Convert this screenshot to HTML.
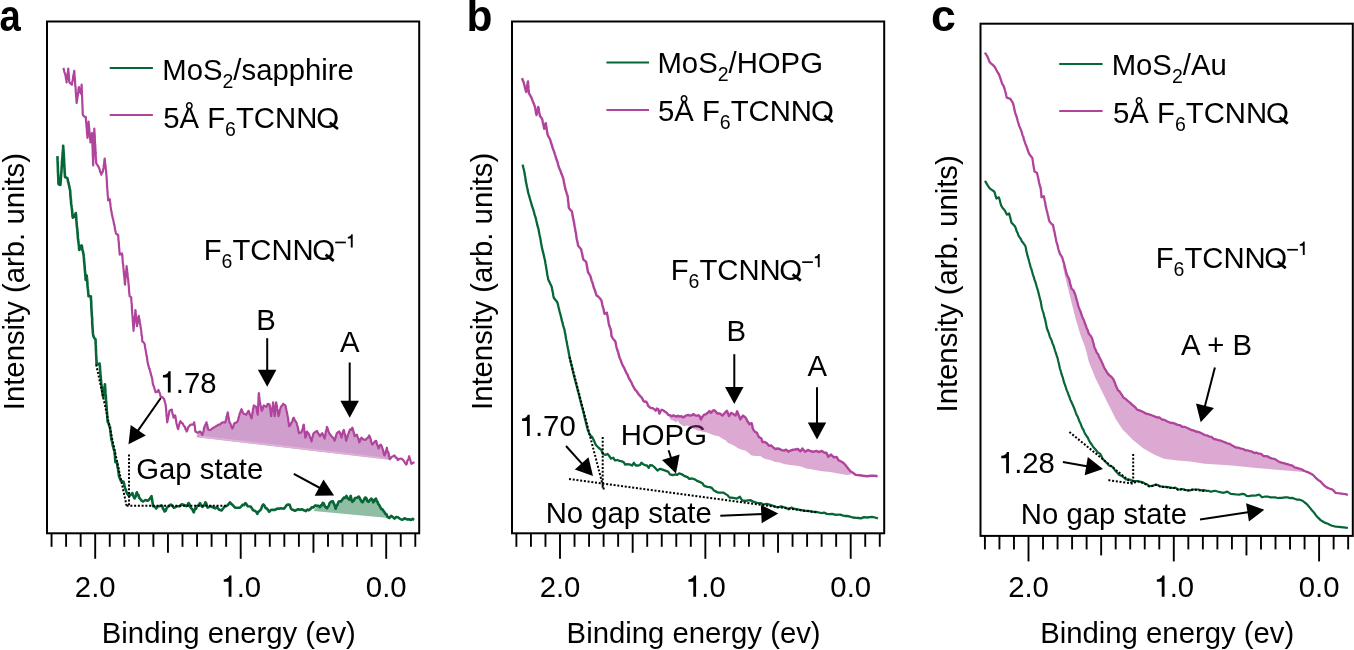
<!DOCTYPE html>
<html><head><meta charset="utf-8"><style>
html,body{margin:0;padding:0;background:#fff;overflow:hidden}
svg{display:block;will-change:transform}
text{font-family:"Liberation Sans",sans-serif;fill:#000}
</style></head><body>
<svg width="1354" height="650" viewBox="0 0 1354 650" font-family="Liberation Sans, sans-serif">
<rect width="1354" height="650" fill="#fff"/>
<text transform="translate(-0.5,31.2) scale(0.91,1.05)" font-size="42" font-weight="bold">a</text>
<text transform="translate(466.6,31.3) scale(1,1.03)" font-size="42.5" font-weight="bold">b</text>
<text transform="translate(930.9,31.3) scale(1.05,1.05)" font-size="42.5" font-weight="bold">c</text>
<rect x="47" y="21.5" width="372.2" height="511.79999999999995" fill="none" stroke="#000" stroke-width="2"/>
<line x1="51.55" y1="533.3" x2="51.55" y2="546.8" stroke="#000" stroke-width="1.9"/>
<line x1="66.10" y1="533.3" x2="66.10" y2="546.8" stroke="#000" stroke-width="1.9"/>
<line x1="80.65" y1="533.3" x2="80.65" y2="546.8" stroke="#000" stroke-width="1.9"/>
<line x1="95.20" y1="533.3" x2="95.20" y2="558.8" stroke="#000" stroke-width="1.9"/>
<line x1="109.75" y1="533.3" x2="109.75" y2="546.8" stroke="#000" stroke-width="1.9"/>
<line x1="124.30" y1="533.3" x2="124.30" y2="546.8" stroke="#000" stroke-width="1.9"/>
<line x1="138.85" y1="533.3" x2="138.85" y2="546.8" stroke="#000" stroke-width="1.9"/>
<line x1="153.40" y1="533.3" x2="153.40" y2="546.8" stroke="#000" stroke-width="1.9"/>
<line x1="167.95" y1="533.3" x2="167.95" y2="552.8" stroke="#000" stroke-width="1.9"/>
<line x1="182.50" y1="533.3" x2="182.50" y2="546.8" stroke="#000" stroke-width="1.9"/>
<line x1="197.05" y1="533.3" x2="197.05" y2="546.8" stroke="#000" stroke-width="1.9"/>
<line x1="211.60" y1="533.3" x2="211.60" y2="546.8" stroke="#000" stroke-width="1.9"/>
<line x1="226.15" y1="533.3" x2="226.15" y2="546.8" stroke="#000" stroke-width="1.9"/>
<line x1="240.70" y1="533.3" x2="240.70" y2="558.8" stroke="#000" stroke-width="1.9"/>
<line x1="255.25" y1="533.3" x2="255.25" y2="546.8" stroke="#000" stroke-width="1.9"/>
<line x1="269.80" y1="533.3" x2="269.80" y2="546.8" stroke="#000" stroke-width="1.9"/>
<line x1="284.35" y1="533.3" x2="284.35" y2="546.8" stroke="#000" stroke-width="1.9"/>
<line x1="298.90" y1="533.3" x2="298.90" y2="546.8" stroke="#000" stroke-width="1.9"/>
<line x1="313.45" y1="533.3" x2="313.45" y2="552.8" stroke="#000" stroke-width="1.9"/>
<line x1="328.00" y1="533.3" x2="328.00" y2="546.8" stroke="#000" stroke-width="1.9"/>
<line x1="342.55" y1="533.3" x2="342.55" y2="546.8" stroke="#000" stroke-width="1.9"/>
<line x1="357.10" y1="533.3" x2="357.10" y2="546.8" stroke="#000" stroke-width="1.9"/>
<line x1="371.65" y1="533.3" x2="371.65" y2="546.8" stroke="#000" stroke-width="1.9"/>
<line x1="386.20" y1="533.3" x2="386.20" y2="558.8" stroke="#000" stroke-width="1.9"/>
<line x1="400.75" y1="533.3" x2="400.75" y2="546.8" stroke="#000" stroke-width="1.9"/>
<line x1="415.30" y1="533.3" x2="415.30" y2="546.8" stroke="#000" stroke-width="1.9"/>
<text transform="translate(95.20,596.80) scale(1,1.03)" font-size="29.3" text-anchor="middle" font-weight="normal" >2.0</text>
<path transform="translate(220.34,596.80) scale(1.0000,1.0300)" d="M8.3,0 L11.1,0 L11.1,-20.6 L9.0,-20.6 C8.6,-18.6 7.0,-17.1 3.4,-16.9 L3.4,-14.5 L8.3,-14.5 Z" fill="#000"/>
<text transform="translate(236.63,596.80) scale(1,1.03)" font-size="29.3" text-anchor="start" font-weight="normal" >.0</text>
<text transform="translate(386.20,596.80) scale(1,1.03)" font-size="29.3" text-anchor="middle" font-weight="normal" >0.0</text>
<text transform="translate(24,410.2) rotate(-90) scale(1,1.03)" font-size="29.3">Intensity (arb. units)</text>
<text transform="translate(101.80,643.00) scale(1,1.03)" font-size="29.3" text-anchor="start" font-weight="normal" >Binding energy (ev)</text>
<line x1="109.7" y1="67.9" x2="152.9" y2="67.9" stroke="#066636" stroke-width="2"/>
<line x1="109.7" y1="115" x2="152.9" y2="115" stroke="#b0449c" stroke-width="2"/>
<text transform="translate(162.26,79.8) scale(1,1.03)" font-size="29.3">MoS<tspan font-size="19.5" dy="7.8">2</tspan><tspan dy="-7.8">/sapphire</tspan></text>
<text transform="translate(163.23,128.3) scale(1,1.03)" font-size="29.3">5Å F<tspan font-size="19.5" dy="7.8">6</tspan><tspan dy="-7.8">TCNN</tspan></text>
<text transform="translate(316.30,128.30) scale(1,1.03)" font-size="29.3" text-anchor="start" font-weight="normal" >O</text>
<line x1="329.7" y1="122.7" x2="337.9" y2="129.0" stroke="#000" stroke-width="2.8"/>
<text transform="translate(203.66,260.2) scale(1,1.03)" font-size="29.3">F<tspan font-size="19.5" dy="7.8">6</tspan><tspan dy="-7.8">TCNN</tspan></text>
<text transform="translate(312.20,260.20) scale(1,1.03)" font-size="29.3" text-anchor="start" font-weight="normal" >O</text>
<line x1="325.6" y1="254.6" x2="333.8" y2="260.9" stroke="#000" stroke-width="2.8"/>
<rect x="335.2" y="241.6" width="10.7" height="1.7" fill="#000"/>
<path d="M350.8,247.6 L352.7,247.6 L352.7,234.3 L351.3,234.3 C351.0,235.7 349.9,236.7 347.8,236.9 L347.8,238.5 L350.8,238.5 Z" fill="#000"/>
<polygon points="196.5,437.2 197.7,432.7 200.0,431.5 202.3,435.0 204.6,426.9 206.5,422.3 208.1,429.2 211.5,429.2 215.0,426.9 218.5,424.6 220.0,424.6 223.1,422.3 225.4,422.3 227.7,412.3 229.2,420.8 232.3,428.5 234.6,423.1 236.9,422.3 241.5,409.2 243.8,413.8 246.2,414.6 248.5,410.8 251.5,418.5 253.8,405.4 256.2,406.9 257.7,414.6 258.8,393.1 260.0,403.1 261.8,410.8 263.8,405.4 266.2,406.9 267.7,403.8 269.5,404.6 271.2,416.2 273.1,402.3 274.6,416.2 276.2,402.3 278.5,416.2 280.8,406.9 283.1,403.8 285.4,405.4 287.7,416.2 289.2,426.2 291.5,422.3 293.8,417.7 296.2,422.3 299.2,433.1 301.5,432.3 303.8,424.6 305.4,437.7 306.9,431.5 309.2,434.6 311.5,441.5 313.8,433.1 316.9,430.8 320.0,436.2 322.3,433.1 324.6,438.5 326.9,426.9 329.2,433.1 331.5,436.2 334.6,440.8 336.9,433.1 339.2,431.5 341.5,437.7 343.8,430.0 346.2,440.8 349.2,431.5 352.3,427.7 354.6,436.2 356.9,434.6 359.2,442.3 361.5,437.7 365.4,440.0 369.2,435.4 372.3,444.6 376.2,440.8 378.5,448.5 380.8,444.6 384.6,455.4 386.9,447.7 390.0,459.2 390.8,460.0" fill="#cf9ecd"/>
<line x1="200.5" y1="436.6" x2="384.8" y2="458.2" stroke="#dcb3d9" stroke-width="1.6"/>
<polygon points="313.5,510.9 317.1,505.8 320.0,507.2 322.7,502.9 327.0,508.3 329.7,502.9 332.9,501.3 335.6,508.8 339.4,501.3 342.6,499.2 346.4,495.9 349.1,499.7 350.7,495.9 352.3,501.8 355.0,498.1 358.8,496.5 362.5,502.4 365.2,497.5 368.5,501.8 371.2,498.6 373.3,502.4 376.0,498.6 378.2,504.0 383.6,511.2 387.6,517.1 388.6,518.1" fill="#8fbea5"/>
<polyline points="63.2,68.0 63.8,69.3 64.3,71.8 64.9,73.3 65.5,75.4 65.8,77.3 66.0,79.1 66.3,79.7 66.6,82.3 66.8,79.6 67.0,79.5 67.2,76.6 67.4,74.9 67.6,74.7 67.8,71.9 68.0,70.9 68.2,68.5 68.4,70.2 68.5,72.2 68.7,73.0 68.8,75.7 69.0,77.9 69.1,78.9 69.2,81.1 69.4,82.3 70.7,83.8 71.9,84.6 72.2,82.0 72.5,81.7 72.8,79.6 73.1,77.3 73.4,75.0 73.7,75.0 74.0,72.5 74.3,70.8 74.4,72.8 74.5,74.8 74.6,76.1 74.8,78.1 74.9,78.6 75.0,81.1 75.1,82.0 75.2,84.6 75.3,86.0 75.4,86.1 75.6,87.8 75.7,89.6 75.8,92.7 75.9,93.2 76.0,95.2 76.1,96.2 76.3,98.2 76.4,99.6 76.5,101.1 76.6,103.0 76.8,101.6 77.1,100.0 77.3,99.0 77.5,97.0 77.8,95.9 78.0,94.1 78.2,92.8 78.4,90.5 78.7,87.9 78.9,87.0 79.5,89.4 80.1,91.4 80.6,93.0 81.2,93.9 81.3,92.2 81.4,90.6 81.4,87.7 81.5,87.1 81.6,84.6 81.7,86.4 81.7,87.5 81.8,88.7 81.9,92.0 81.9,93.9 82.0,93.8 82.1,96.9 82.1,97.8 82.2,99.0 82.3,100.9 82.3,103.5 82.4,105.4 82.5,105.4 82.5,108.2 82.6,108.8 82.7,111.8 82.7,112.7 82.8,114.7 84.3,116.6 85.8,117.0 85.9,119.6 86.0,120.2 86.2,122.8 86.3,123.0 86.4,124.2 86.5,126.8 86.7,127.3 86.8,129.2 86.9,131.2 87.0,133.2 87.2,133.9 87.3,135.3 87.4,137.8 87.5,136.9 87.6,134.2 87.8,133.9 87.9,132.1 88.0,129.5 88.1,128.0 88.2,126.5 88.4,125.1 88.5,123.4 88.6,121.6 88.7,123.3 88.9,125.0 89.0,127.3 89.2,128.0 89.3,129.5 89.4,131.6 89.6,132.3 89.7,134.0 89.8,137.0 90.0,137.6 90.1,139.3 90.3,139.8 90.4,142.4 90.7,140.4 91.0,138.8 91.4,135.8 91.7,135.1 92.0,133.0 92.1,134.9 92.1,135.4 92.2,138.1 92.2,139.4 92.3,141.5 92.4,142.5 92.4,144.8 92.5,146.5 92.5,146.7 92.6,148.4 92.7,151.2 92.7,153.4 92.8,153.6 92.8,155.7 92.9,157.6 93.0,158.6 93.0,160.4 93.1,161.9 93.1,163.6 93.2,165.5 93.2,164.1 93.3,161.9 93.3,160.4 93.4,159.6 93.4,156.5 93.5,156.0 93.5,154.7 93.6,152.3 93.6,150.5 93.7,150.0 93.7,147.3 93.8,145.6 93.8,144.5 93.9,143.4 93.9,140.6 94.0,139.4 94.0,137.8 94.1,137.2 94.1,134.8 94.2,134.0 94.2,131.1 94.3,129.8 94.3,128.5 94.4,130.5 94.5,132.6 94.6,133.4 94.7,134.6 94.8,136.0 94.8,138.5 94.9,139.4 95.0,142.3 95.1,144.0 95.2,144.4 95.3,146.2 95.4,148.9 95.5,150.3 95.6,152.2 95.7,153.0 95.7,154.2 95.8,156.2 95.9,158.8 96.0,159.4 96.1,161.2 96.2,163.2 97.1,164.6 98.1,166.1 99.0,167.8 99.6,169.3 100.2,172.1 100.7,172.3 101.3,174.7 101.9,172.1 102.5,172.5 103.1,170.0 103.3,169.1 103.6,167.7 103.8,164.9 104.0,164.3 104.2,162.6 104.5,159.6 104.7,158.5 104.9,160.7 105.0,162.5 105.2,163.9 105.4,165.3 105.6,166.5 105.7,168.3 105.9,169.7 106.1,171.1 106.3,173.8 106.4,174.9 106.6,177.0 106.7,179.3 106.8,179.4 106.9,182.8 107.0,184.1 107.1,186.2 107.2,187.8 107.3,189.5 107.4,190.5 107.5,192.0 107.6,192.7 107.8,195.9 107.9,196.4 108.1,198.3 108.2,200.4 109.8,199.2 110.0,201.2 110.2,202.6 110.4,204.0 110.6,206.7 110.8,207.7 111.0,208.8 111.2,210.8 111.6,211.9 111.9,214.8 112.3,215.7 112.6,217.9 113.0,218.7 113.3,220.1 113.7,222.4 114.1,224.6 114.4,224.9 114.8,227.8 115.1,229.7 115.5,231.1 115.8,232.8 116.2,233.8 118.1,235.0 118.2,235.6 118.4,238.5 118.5,240.6 118.6,240.6 118.8,242.7 118.9,244.3 119.0,246.5 119.2,247.9 119.3,249.6 119.4,251.9 119.6,252.0 119.7,254.6 122.0,253.5 122.2,254.2 122.3,256.0 122.5,257.7 122.6,259.2 122.8,262.6 122.9,264.0 123.1,264.1 123.3,266.6 123.4,267.9 123.6,269.5 123.7,271.2 123.9,273.4 124.1,275.0 124.2,276.1 124.4,277.4 124.5,279.3 124.7,280.6 124.8,283.1 125.0,284.6 125.1,283.4 125.3,281.0 125.4,278.7 125.6,277.3 125.7,276.0 125.9,274.8 126.0,273.5 126.2,271.0 126.3,270.1 126.5,268.1 126.6,266.2 126.8,267.8 127.0,269.4 127.2,271.4 127.4,273.5 127.6,274.7 127.8,276.9 128.0,278.2 128.2,280.0 128.3,281.1 128.5,283.3 128.6,285.3 128.8,285.6 128.9,287.9 129.0,289.6 129.2,292.1 129.3,293.8 129.5,294.3 129.6,296.2 131.2,297.3 131.3,299.8 131.4,301.2 131.5,301.8 131.7,303.9 131.8,304.9 131.9,308.0 132.0,309.3 132.1,311.5 132.2,313.0 132.3,314.4 132.5,316.2 132.6,317.5 132.7,318.3 132.8,320.9 132.9,321.4 133.0,323.4 133.2,326.3 133.3,326.5 133.4,328.3 133.5,330.8 133.6,328.4 133.8,328.4 133.9,325.4 134.1,323.4 134.2,323.5 134.4,320.4 134.5,320.3 134.7,318.3 134.8,317.1 135.0,315.7 135.1,313.4 135.3,312.2 135.4,310.0 135.6,310.7 135.7,313.8 135.9,314.9 136.0,316.9 136.2,317.3 136.4,320.2 136.5,322.2 136.7,322.1 136.8,324.2 137.0,326.2 137.3,324.6 137.6,323.4 137.9,320.5 138.2,318.6 138.5,317.0 138.8,315.8 139.1,317.8 139.4,319.8 139.7,320.8 139.9,322.5 140.2,324.3 140.5,326.2 140.7,327.5 141.0,329.3 141.2,330.3 141.4,332.8 141.6,335.4 141.9,335.9 142.1,337.7 142.2,340.1 142.3,341.5 143.4,342.0 144.6,343.8 144.9,345.8 145.1,347.5 145.4,348.9 145.7,350.2 145.9,351.8 146.2,353.7 146.5,355.8 146.8,355.9 147.0,357.4 147.3,360.3 147.6,362.2 147.8,363.0 148.1,364.6 148.6,366.1 149.1,368.4 149.6,368.9 150.0,370.8 150.5,372.3 151.0,374.7 151.5,376.2 151.9,377.7 152.3,379.3 152.6,382.1 153.0,384.5 153.4,385.4 154.0,386.7 154.6,389.3 155.1,390.4 155.7,392.3 157.1,391.9 158.5,390.0 159.1,391.9 159.7,393.0 160.2,394.7 160.8,397.0 162.5,397.1 164.2,399.2 164.6,400.9 165.0,402.5 165.4,403.8 165.8,406.2 165.9,407.5 166.1,409.1 166.2,411.6 166.4,411.9 166.5,415.2 166.6,415.8 166.8,417.7 166.9,419.0 167.1,421.4 167.2,422.3 167.5,421.3 167.9,419.1 168.2,417.3 168.5,416.2 168.8,414.8 169.2,412.2 169.5,410.8 171.8,409.6 172.1,411.7 172.5,413.8 172.8,414.4 173.2,415.5 173.5,417.7 175.1,415.4 175.5,416.7 175.8,419.5 176.2,421.3 176.5,423.7 176.9,424.6 177.5,427.6 178.1,429.2 178.6,427.1 179.0,425.4 179.5,423.9 179.9,422.2 180.4,421.2 181.6,422.8 182.7,423.5 183.8,425.9 185.0,426.9 185.5,429.2 186.1,429.5 186.6,431.5 187.2,430.7 187.9,428.1 188.5,426.9 189.7,425.6 190.8,424.6 193.1,424.6 194.2,422.3 194.4,424.6 194.7,425.2 194.9,427.0 195.2,430.3 195.4,431.5 197.7,432.7 200.0,431.5 201.2,432.8 202.3,435.0 202.8,433.1 203.2,431.9 203.7,430.5 204.1,427.5 204.6,426.9 205.2,425.0 205.9,423.7 206.5,422.3 206.9,424.0 207.3,425.2 207.7,427.6 208.1,429.2 209.8,430.1 211.5,429.2 213.2,427.8 215.0,426.9 216.8,425.8 218.5,424.6 220.0,424.6 221.6,422.7 223.1,422.3 225.4,422.3 225.8,420.2 226.2,419.3 226.6,416.5 226.9,416.4 227.3,414.8 227.7,412.3 228.0,413.2 228.3,416.6 228.6,417.1 228.9,419.6 229.2,420.8 229.8,422.9 230.4,423.5 231.1,425.8 231.7,427.3 232.3,428.5 233.1,427.3 233.8,424.4 234.6,423.1 236.9,422.3 237.5,421.2 238.1,419.9 238.6,417.7 239.2,415.8 239.8,413.3 240.3,412.5 240.9,410.5 241.5,409.2 242.3,411.2 243.0,412.6 243.8,413.8 246.2,414.6 247.3,412.8 248.5,410.8 249.1,411.7 249.7,414.2 250.3,415.7 250.9,416.3 251.5,418.5 251.8,417.6 252.1,415.5 252.4,412.8 252.7,412.8 252.9,409.6 253.2,408.3 253.5,407.5 253.8,405.4 256.2,406.9 256.6,409.0 256.9,410.9 257.3,413.0 257.7,414.6 257.8,412.9 257.9,410.9 258.0,409.0 258.0,407.1 258.1,406.8 258.2,405.2 258.3,403.1 258.4,401.8 258.5,399.4 258.5,397.6 258.6,396.2 258.7,395.5 258.8,393.1 259.0,393.9 259.2,396.4 259.4,397.6 259.6,400.3 259.8,401.1 260.0,403.1 260.4,404.7 260.9,406.8 261.4,409.0 261.8,410.8 262.5,409.5 263.1,406.9 263.8,405.4 266.2,406.9 266.9,406.0 267.7,403.8 269.5,404.6 269.7,405.5 270.0,407.5 270.2,408.8 270.5,410.5 270.7,413.4 271.0,415.0 271.2,416.2 271.4,413.8 271.7,412.1 271.9,410.8 272.1,409.7 272.4,408.1 272.6,406.3 272.9,404.2 273.1,402.3 273.3,403.3 273.5,405.6 273.7,406.9 273.9,409.3 274.0,411.1 274.2,412.1 274.4,414.0 274.6,416.2 274.8,415.0 275.0,411.8 275.2,411.6 275.4,410.0 275.6,408.4 275.8,405.5 276.0,404.1 276.2,402.3 276.5,404.2 276.8,406.0 277.1,408.5 277.4,409.6 277.6,410.6 277.9,413.4 278.2,414.4 278.5,416.2 279.0,414.5 279.4,412.9 279.9,409.6 280.3,409.3 280.8,406.9 282.0,405.7 283.1,403.8 285.4,405.4 285.8,407.2 286.2,409.0 286.5,410.7 286.9,412.0 287.3,414.5 287.7,416.2 287.9,416.9 288.2,419.5 288.4,421.5 288.7,422.8 288.9,424.7 289.2,426.2 290.4,425.2 291.5,422.3 292.3,421.6 293.0,418.5 293.8,417.7 294.6,419.8 295.4,421.0 296.2,422.3 296.6,422.9 297.1,425.1 297.5,426.4 297.9,427.6 298.3,430.1 298.8,432.4 299.2,433.1 301.5,432.3 302.0,430.4 302.4,430.0 302.9,428.1 303.3,425.4 303.8,424.6 304.0,427.0 304.2,428.1 304.4,430.4 304.6,431.6 304.8,433.3 305.0,434.1 305.2,436.7 305.4,437.7 305.9,436.5 306.4,434.3 306.9,431.5 308.0,432.9 309.2,434.6 309.8,436.8 310.4,438.0 310.9,439.0 311.5,441.5 312.0,438.9 312.4,437.3 312.9,435.9 313.3,434.1 313.8,433.1 315.4,431.9 316.9,430.8 317.9,433.0 319.0,434.5 320.0,436.2 321.1,434.5 322.3,433.1 323.1,435.2 323.8,436.3 324.6,438.5 324.9,436.8 325.3,435.7 325.6,433.3 325.9,431.2 326.2,431.0 326.6,429.0 326.9,426.9 327.5,428.2 328.0,429.7 328.6,431.6 329.2,433.1 330.4,434.8 331.5,436.2 332.5,437.2 333.6,438.3 334.6,440.8 335.1,438.7 335.5,438.3 336.0,435.5 336.4,434.6 336.9,433.1 339.2,431.5 339.8,432.4 340.4,434.0 340.9,435.5 341.5,437.7 342.0,436.0 342.4,434.0 342.9,432.1 343.3,430.8 343.8,430.0 344.2,431.1 344.6,433.6 345.0,434.5 345.4,436.2 345.8,438.9 346.2,440.8 346.7,439.1 347.2,438.1 347.7,435.3 348.2,434.4 348.7,432.8 349.2,431.5 350.2,429.3 351.3,429.9 352.3,427.7 352.8,428.8 353.2,430.3 353.7,432.7 354.1,433.8 354.6,436.2 356.9,434.6 357.4,436.4 357.8,437.4 358.3,438.5 358.7,439.9 359.2,442.3 360.0,441.2 360.7,438.8 361.5,437.7 363.4,439.4 365.4,440.0 366.7,438.4 367.9,437.8 369.2,435.4 369.7,436.5 370.2,438.0 370.8,439.5 371.3,442.2 371.8,443.3 372.3,444.6 373.6,443.0 374.9,441.3 376.2,440.8 376.7,442.7 377.1,444.8 377.6,445.6 378.0,446.0 378.5,448.5 379.6,445.6 380.8,444.6 381.3,445.3 381.9,447.0 382.4,448.3 383.0,449.9 383.5,452.6 384.1,454.7 384.6,455.4 385.1,453.3 385.5,453.3 386.0,450.7 386.4,449.8 386.9,447.7 387.3,450.2 387.8,451.9 388.2,451.7 388.7,453.9 389.1,456.1 389.6,458.5 390.0,459.2 391.5,457.1 393.1,456.3 394.6,455.4 395.6,457.6 396.7,457.7 397.7,460.0 399.2,459.0 400.8,458.5 402.3,459.3 403.8,460.8 405.0,463.1 406.2,464.6 406.8,463.8 407.4,460.6 408.0,460.0 408.6,458.3 409.2,456.2 409.8,458.8 410.4,460.1 410.9,462.7 411.5,463.8 413.1,462.8 414.6,462.3" fill="none" stroke="#b0449c" stroke-width="2.2" stroke-linejoin="round"/>
<polyline points="57.4,156.2 57.5,157.2 57.5,158.5 57.6,160.9 57.7,161.9 57.7,163.3 57.8,165.8 57.9,168.7 57.9,170.0 58.0,171.6 58.0,171.9 58.1,174.3 58.2,175.3 58.2,176.7 58.3,178.1 58.4,180.0 58.4,183.4 58.5,184.0 60.4,185.0 60.5,184.2 60.6,182.5 60.8,180.8 60.9,177.7 61.0,176.4 61.1,175.5 61.2,174.1 61.3,172.8 61.5,171.2 61.6,167.7 61.7,167.3 61.8,165.8 61.9,163.8 62.0,161.4 62.1,160.4 62.3,157.9 62.4,158.3 62.5,156.5 62.6,154.1 62.7,151.9 62.9,151.7 63.0,149.2 63.1,148.4 63.2,145.8 63.3,148.3 63.4,149.1 63.5,150.5 63.6,152.6 63.7,153.8 63.8,154.8 63.9,156.8 64.0,159.7 64.1,159.5 64.1,161.1 64.2,164.2 64.3,165.0 64.4,167.2 64.5,168.7 64.6,170.1 64.7,173.3 64.8,173.0 64.9,175.1 65.0,177.0 67.3,178.2 67.7,179.2 68.1,181.9 68.5,182.8 68.9,185.0 69.3,186.3 69.7,188.9 70.1,190.0 70.2,191.2 70.3,193.3 70.4,195.8 70.5,195.4 70.6,198.0 70.8,198.6 71.0,200.6 71.1,203.6 71.3,204.8 71.5,205.6 71.7,207.4 71.9,208.7 72.1,211.0 72.2,211.7 72.4,214.9 72.6,217.0 72.8,217.7 73.8,217.2 74.8,215.1 75.8,213.0 75.9,215.7 76.1,215.1 76.2,217.4 76.4,220.7 76.5,221.8 76.6,222.6 76.8,225.5 76.9,226.4 77.1,228.5 77.2,228.9 77.4,230.2 77.5,232.5 77.6,233.4 77.8,235.6 77.9,238.6 78.1,238.8 78.2,240.8 78.4,241.5 78.6,243.4 78.9,245.5 79.1,248.8 79.3,250.0 80.1,248.1 80.8,246.4 81.6,245.4 82.0,246.3 82.4,250.2 82.7,250.7 83.1,252.1 83.5,254.6 83.7,255.2 83.8,256.9 84.0,258.9 84.1,261.8 84.3,262.2 84.4,263.7 84.6,266.4 84.7,267.5 84.9,271.0 85.0,270.6 85.2,273.3 85.3,275.6 85.5,276.4 85.6,279.5 85.8,280.0 86.2,277.6 86.7,275.4 86.8,276.4 87.0,278.4 87.1,279.1 87.3,281.6 87.4,282.8 87.5,285.9 87.7,287.4 87.8,288.2 87.9,288.7 88.1,290.8 88.2,292.4 88.4,293.9 88.5,296.2 90.8,296.2 90.9,297.2 91.0,300.3 91.1,300.2 91.2,301.6 91.3,305.3 91.3,306.0 91.4,308.6 91.5,308.8 91.6,311.6 91.7,312.7 91.8,314.6 91.9,316.1 92.0,317.1 92.1,317.8 92.2,319.6 92.2,322.8 92.3,324.5 92.4,326.2 92.5,326.4 92.6,328.8 92.7,330.0 92.9,332.5 93.0,333.9 93.2,335.4 94.3,338.1 95.5,339.2 95.6,341.0 95.6,343.0 95.7,344.7 95.8,345.4 95.9,348.7 95.9,350.5 96.0,350.0 96.1,353.9 96.2,355.5 96.2,356.5 96.3,356.7 96.4,360.5 96.5,360.3 96.5,364.0 96.6,364.6 99.6,363.5 99.7,365.5 99.9,365.7 100.0,367.6 100.1,370.3 100.3,371.8 100.4,373.8 100.5,375.9 100.7,375.8 100.8,376.9 100.9,380.8 101.1,380.2 101.2,383.0 101.4,385.7 101.7,385.6 101.9,389.0 102.2,390.7 102.4,392.7 102.6,393.6 102.9,396.2 103.1,397.0 103.3,394.7 103.5,394.2 103.8,391.8 104.0,391.5 104.2,389.7 104.5,387.3 104.7,385.9 104.9,384.2 105.0,384.7 105.1,386.4 105.3,389.4 105.4,390.8 105.5,393.4 105.6,394.4 105.8,394.9 105.9,397.1 106.0,399.8 106.1,400.8 106.2,401.2 106.4,404.9 106.5,406.5 106.6,406.4 106.7,409.2 106.8,410.4 107.0,413.1 107.1,413.6 107.2,415.0 107.3,417.3 107.5,420.1 107.6,419.7 107.7,422.3 108.5,422.9 109.2,425.7 110.0,427.0 110.2,429.5 110.4,430.3 110.6,431.7 110.8,434.4 110.9,435.8 111.1,435.7 111.3,439.3 111.5,440.0 111.9,441.0 112.4,443.0 112.8,446.1 113.3,446.8 113.7,449.5 114.2,449.7 114.6,452.3 114.7,454.9 114.9,454.9 115.0,456.5 115.1,459.0 115.3,460.2 115.4,462.3 116.9,462.3 117.2,464.0 117.4,466.5 117.7,467.7 117.9,467.6 118.2,470.0 118.4,472.1 118.7,473.6 118.9,475.8 119.2,476.9 120.0,478.8 120.8,480.8 123.1,481.5 123.6,482.0 124.1,484.0 124.6,486.2 125.2,488.7 125.8,489.3 126.3,491.9 126.9,493.0 128.4,495.4 130.0,495.4 131.2,494.5 132.3,493.0 133.1,495.3 133.8,496.9 134.6,498.5 135.2,496.5 135.8,496.4 136.3,493.8 136.9,492.3 137.7,494.8 138.4,494.9 139.2,497.8 140.0,498.5 141.6,500.7 143.1,501.5 145.4,500.0 147.7,500.8 148.8,499.9 150.0,498.5 151.5,496.2 151.8,497.7 152.0,498.7 152.3,501.9 152.6,502.5 152.8,504.9 153.1,506.2 154.6,506.5 156.2,508.5 157.7,506.3 159.2,506.2 161.5,505.4 162.3,506.1 163.1,509.2 163.8,509.2 164.6,511.5 165.6,510.9 166.7,508.1 167.7,506.9 169.2,505.9 170.8,504.6 172.3,505.8 173.8,507.7 175.4,507.2 176.9,506.2 180.0,506.2 181.6,504.4 183.1,504.6 184.6,505.2 186.2,506.2 187.3,505.6 188.5,503.0 189.3,503.8 190.0,506.5 190.8,507.7 191.8,508.8 192.8,510.3 193.8,512.3 194.6,509.6 195.4,508.1 196.1,508.8 196.9,506.2 198.4,505.4 200.0,503.0 201.2,505.7 202.3,506.9 203.3,506.1 204.4,504.9 205.4,502.3 206.2,503.3 206.9,506.1 207.7,507.7 209.2,506.9 210.8,506.2 212.3,507.1 213.8,507.7 215.4,508.4 216.9,506.9 218.4,509.1 220.0,510.0 221.6,510.4 223.1,508.5 224.6,506.4 226.2,506.2 227.5,505.3 228.7,504.0 230.0,502.3 231.2,504.0 232.3,504.6 233.9,506.4 235.4,507.7 238.5,507.7 240.0,507.7 241.5,506.2 242.8,504.7 244.1,505.1 245.4,503.0 246.6,504.4 247.7,506.2 250.6,506.5 251.7,508.0 252.8,509.9 253.9,510.6 255.1,510.9 256.2,511.9 257.3,513.8 258.3,511.8 259.3,511.0 260.3,510.3 261.3,508.6 262.3,505.8 263.3,504.5 264.5,505.7 265.7,508.2 266.8,508.4 268.0,510.1 269.2,511.8 270.8,510.0 272.4,509.7 274.0,509.9 275.6,509.6 277.2,508.5 279.0,508.8 280.7,508.2 282.5,508.5 284.0,508.6 285.5,506.8 287.0,504.7 288.5,504.5 289.7,504.8 290.9,508.3 292.0,509.6 293.2,509.8 294.9,510.8 296.5,510.0 298.1,509.3 299.8,509.8 301.8,509.3 303.8,510.2 305.8,511.2 307.3,509.5 308.8,510.2 310.3,509.1 311.8,507.2 313.6,507.4 315.3,505.4 317.1,505.8 318.6,505.9 320.0,507.2 320.9,505.3 321.8,505.4 322.7,502.9 323.8,503.4 324.9,506.3 325.9,507.4 327.0,508.3 327.9,506.6 328.8,505.8 329.7,502.9 331.3,501.5 332.9,501.3 333.6,503.2 334.2,504.2 334.9,506.0 335.6,508.8 336.4,506.2 337.1,505.4 337.9,503.4 338.6,501.7 339.4,501.3 341.0,501.4 342.6,499.2 343.9,497.6 345.1,497.9 346.4,495.9 347.8,498.3 349.1,499.7 349.9,498.4 350.7,495.9 351.2,498.2 351.8,500.9 352.3,501.8 353.6,500.9 355.0,498.1 356.9,497.8 358.8,496.5 359.7,498.1 360.6,499.9 361.6,501.5 362.5,502.4 363.4,500.9 364.3,499.1 365.2,497.5 366.3,498.1 367.4,501.2 368.5,501.8 369.9,500.2 371.2,498.6 372.2,499.5 373.3,502.4 374.6,499.7 376.0,498.6 376.7,501.3 377.5,501.6 378.2,504.0 379.3,505.2 380.4,507.3 381.4,509.2 382.5,509.3 383.6,511.2 384.6,512.4 385.6,514.0 386.6,514.5 387.6,517.1 389.4,518.0 391.1,515.9 392.9,517.1 394.5,518.6 396.2,517.0 397.9,517.3 399.5,518.5 401.2,519.5 402.9,519.6 404.5,518.3 406.2,519.1 407.8,519.4 409.4,519.3 411.0,520.0 412.6,518.9 414.2,519.8" fill="none" stroke="#066636" stroke-width="2.6" stroke-linejoin="round"/>
<line x1="96.2" y1="364.6" x2="126.6" y2="505.8" stroke="#000" stroke-width="2" stroke-dasharray="2 1.75" fill="none"/>
<line x1="126.6" y1="505.8" x2="228" y2="505.8" stroke="#000" stroke-width="2" stroke-dasharray="2 1.75" fill="none"/>
<line x1="129" y1="454.6" x2="129" y2="505.8" stroke="#000" stroke-width="2" stroke-dasharray="2 1.75" fill="none"/>
<text transform="translate(256.36,329.50) scale(1,1.03)" font-size="29.3" text-anchor="start" font-weight="normal" >B</text>
<text transform="translate(340.00,352.00) scale(1,1.03)" font-size="29.3" text-anchor="start" font-weight="normal" >A</text>
<line x1="267.2" y1="338.2" x2="267.2" y2="371.8" stroke="#000" stroke-width="2"/>
<polygon points="267.2,386.8 257.9,369.8 276.4,369.8" fill="#000"/>
<line x1="349.7" y1="362.5" x2="349.7" y2="402.7" stroke="#000" stroke-width="2"/>
<polygon points="349.7,417.7 340.4,400.7 358.9,400.7" fill="#000"/>
<path transform="translate(159.56,392.50) scale(1.0000,1.0300)" d="M8.3,0 L11.1,0 L11.1,-20.6 L9.0,-20.6 C8.6,-18.6 7.0,-17.1 3.4,-16.9 L3.4,-14.5 L8.3,-14.5 Z" fill="#000"/>
<text transform="translate(175.85,392.50) scale(1,1.03)" font-size="29.3" text-anchor="start" font-weight="normal" >.78</text>
<line x1="160.8" y1="398" x2="137.1" y2="431.9" stroke="#000" stroke-width="2"/>
<polygon points="128.5,444.2 130.7,425.0 145.8,435.6" fill="#000"/>
<text transform="translate(136.23,478.80) scale(1,1.03)" font-size="29.3" text-anchor="start" font-weight="normal" >Gap state</text>
<line x1="293.8" y1="473.9" x2="320.9" y2="488.5" stroke="#000" stroke-width="2"/>
<polygon points="334.1,495.6 314.7,495.7 323.5,479.4" fill="#000"/>
<rect x="512" y="21.5" width="372.20000000000005" height="511.79999999999995" fill="none" stroke="#000" stroke-width="2"/>
<line x1="516.39" y1="533.3" x2="516.39" y2="546.8" stroke="#000" stroke-width="1.9"/>
<line x1="530.93" y1="533.3" x2="530.93" y2="546.8" stroke="#000" stroke-width="1.9"/>
<line x1="545.47" y1="533.3" x2="545.47" y2="546.8" stroke="#000" stroke-width="1.9"/>
<line x1="560.00" y1="533.3" x2="560.00" y2="558.8" stroke="#000" stroke-width="1.9"/>
<line x1="574.53" y1="533.3" x2="574.53" y2="546.8" stroke="#000" stroke-width="1.9"/>
<line x1="589.07" y1="533.3" x2="589.07" y2="546.8" stroke="#000" stroke-width="1.9"/>
<line x1="603.61" y1="533.3" x2="603.61" y2="546.8" stroke="#000" stroke-width="1.9"/>
<line x1="618.14" y1="533.3" x2="618.14" y2="546.8" stroke="#000" stroke-width="1.9"/>
<line x1="632.67" y1="533.3" x2="632.67" y2="552.8" stroke="#000" stroke-width="1.9"/>
<line x1="647.21" y1="533.3" x2="647.21" y2="546.8" stroke="#000" stroke-width="1.9"/>
<line x1="661.75" y1="533.3" x2="661.75" y2="546.8" stroke="#000" stroke-width="1.9"/>
<line x1="676.28" y1="533.3" x2="676.28" y2="546.8" stroke="#000" stroke-width="1.9"/>
<line x1="690.82" y1="533.3" x2="690.82" y2="546.8" stroke="#000" stroke-width="1.9"/>
<line x1="705.35" y1="533.3" x2="705.35" y2="558.8" stroke="#000" stroke-width="1.9"/>
<line x1="719.88" y1="533.3" x2="719.88" y2="546.8" stroke="#000" stroke-width="1.9"/>
<line x1="734.42" y1="533.3" x2="734.42" y2="546.8" stroke="#000" stroke-width="1.9"/>
<line x1="748.96" y1="533.3" x2="748.96" y2="546.8" stroke="#000" stroke-width="1.9"/>
<line x1="763.49" y1="533.3" x2="763.49" y2="546.8" stroke="#000" stroke-width="1.9"/>
<line x1="778.03" y1="533.3" x2="778.03" y2="552.8" stroke="#000" stroke-width="1.9"/>
<line x1="792.56" y1="533.3" x2="792.56" y2="546.8" stroke="#000" stroke-width="1.9"/>
<line x1="807.10" y1="533.3" x2="807.10" y2="546.8" stroke="#000" stroke-width="1.9"/>
<line x1="821.63" y1="533.3" x2="821.63" y2="546.8" stroke="#000" stroke-width="1.9"/>
<line x1="836.16" y1="533.3" x2="836.16" y2="546.8" stroke="#000" stroke-width="1.9"/>
<line x1="850.70" y1="533.3" x2="850.70" y2="558.8" stroke="#000" stroke-width="1.9"/>
<line x1="865.24" y1="533.3" x2="865.24" y2="546.8" stroke="#000" stroke-width="1.9"/>
<line x1="879.77" y1="533.3" x2="879.77" y2="546.8" stroke="#000" stroke-width="1.9"/>
<text transform="translate(560.00,596.80) scale(1,1.03)" font-size="29.3" text-anchor="middle" font-weight="normal" >2.0</text>
<path transform="translate(684.99,596.80) scale(1.0000,1.0300)" d="M8.3,0 L11.1,0 L11.1,-20.6 L9.0,-20.6 C8.6,-18.6 7.0,-17.1 3.4,-16.9 L3.4,-14.5 L8.3,-14.5 Z" fill="#000"/>
<text transform="translate(701.28,596.80) scale(1,1.03)" font-size="29.3" text-anchor="start" font-weight="normal" >.0</text>
<text transform="translate(850.70,596.80) scale(1,1.03)" font-size="29.3" text-anchor="middle" font-weight="normal" >0.0</text>
<text transform="translate(492,410) rotate(-90) scale(1,1.03)" font-size="29.3">Intensity (arb. units)</text>
<text transform="translate(566.60,643.00) scale(1,1.03)" font-size="29.3" text-anchor="start" font-weight="normal" >Binding energy (ev)</text>
<line x1="606.4" y1="62.5" x2="649" y2="62.5" stroke="#066636" stroke-width="2"/>
<line x1="606.4" y1="109.9" x2="649" y2="109.9" stroke="#b0449c" stroke-width="2"/>
<text transform="translate(657.46,72.9) scale(1,1.03)" font-size="29.3">MoS<tspan font-size="19.5" dy="7.8">2</tspan><tspan dy="-7.8">/HOPG</tspan></text>
<text transform="translate(657.93,121.1) scale(1,1.03)" font-size="29.3">5Å F<tspan font-size="19.5" dy="7.8">6</tspan><tspan dy="-7.8">TCNN</tspan></text>
<text transform="translate(811.00,121.10) scale(1,1.03)" font-size="29.3" text-anchor="start" font-weight="normal" >O</text>
<line x1="824.4" y1="115.5" x2="832.6" y2="121.8" stroke="#000" stroke-width="2.8"/>
<text transform="translate(670.66,279.9) scale(1,1.03)" font-size="29.3">F<tspan font-size="19.5" dy="7.8">6</tspan><tspan dy="-7.8">TCNN</tspan></text>
<text transform="translate(779.20,279.90) scale(1,1.03)" font-size="29.3" text-anchor="start" font-weight="normal" >O</text>
<line x1="792.6" y1="274.3" x2="800.8" y2="280.6" stroke="#000" stroke-width="2.8"/>
<rect x="802.2" y="261.3" width="10.7" height="1.7" fill="#000"/>
<path d="M817.8,267.3 L819.7,267.3 L819.7,254.0 L818.3,254.0 C818.0,255.4 816.9,256.4 814.8,256.6 L814.8,258.2 L817.8,258.2 Z" fill="#000"/>
<text transform="translate(726.46,341.20) scale(1,1.03)" font-size="29.3" text-anchor="start" font-weight="normal" >B</text>
<text transform="translate(807.40,375.70) scale(1,1.03)" font-size="29.3" text-anchor="start" font-weight="normal" >A</text>
<path transform="translate(518.66,436.00) scale(1.0000,1.0300)" d="M8.3,0 L11.1,0 L11.1,-20.6 L9.0,-20.6 C8.6,-18.6 7.0,-17.1 3.4,-16.9 L3.4,-14.5 L8.3,-14.5 Z" fill="#000"/>
<text transform="translate(534.95,436.00) scale(1,1.03)" font-size="29.3" text-anchor="start" font-weight="normal" >.70</text>
<text transform="translate(620.66,445.00) scale(1,1.03)" font-size="29.3" text-anchor="start" font-weight="normal" >HOPG</text>
<text transform="translate(545.66,522.60) scale(1,1.03)" font-size="29.3" text-anchor="start" font-weight="normal" >No gap state</text>
<polygon points="670.1,415.3 671.8,416.2 673.4,415.3 675.1,416.2 676.4,416.6 678.1,415.7 679.8,416.6 681.5,416.2 683.2,417.4 684.9,416.2 686.6,415.3 688.3,414.9 690.0,415.7 691.7,415.3 693.3,414.1 695.0,415.3 696.7,415.7 698.4,415.3 699.7,416.2 701.0,419.6 702.2,417.0 703.9,414.9 706.0,414.1 707.7,412.8 709.4,411.1 711.1,412.8 712.8,410.7 714.5,410.2 717.2,413.5 719.8,413.5 722.5,415.6 724.7,412.9 726.9,410.8 729.0,416.2 731.2,412.9 733.3,414.0 735.5,415.6 737.1,411.3 738.7,415.1 740.3,419.4 743.0,415.6 745.2,417.2 747.3,421.0 749.5,424.2 751.6,423.2 753.3,429.6 754.9,431.8 757.0,432.9 759.2,437.2 761.3,438.3 762.4,442.0 764.6,442.0 766.7,443.1 768.9,445.8 771.0,445.3 773.2,447.4 775.3,449.0 777.5,448.5 779.7,449.0 781.8,450.1 784.0,450.6 786.1,449.6 788.3,451.7 790.4,450.6 792.6,449.8 795.0,449.5 797.8,449.0 800.5,451.3 802.4,448.5 805.2,451.8 807.9,449.9 810.7,451.3 813.5,451.8 816.2,450.9 819.0,452.2 821.8,450.9 824.5,452.7 826.4,452.7 828.2,456.9 831.0,454.5 833.8,457.3 836.6,456.9 838.4,460.1 841.2,461.5 843.9,463.3 845.8,465.6 848.1,468.4 850.4,471.2 851.3,474.4 846.7,474.9 841.2,473.9 835.6,473.0 830.1,472.1 824.5,471.6 819.0,470.7 813.5,469.8 809.8,468.9 806.1,468.4 802.4,467.0 798.7,466.1 796.9,465.7 792.6,465.2 788.3,464.7 784.0,464.1 779.7,462.5 775.3,462.0 771.0,460.3 766.7,459.3 763.5,458.2 760.3,456.0 756.0,456.0 751.6,455.5 748.4,452.8 745.2,450.6 740.9,449.6 737.6,448.0 734.4,445.8 731.2,444.2 727.4,442.6 725.8,440.4 722.5,438.8 719.3,436.6 715.0,435.6 713.7,435.2 709.4,433.5 706.0,432.3 701.8,431.4 697.6,430.6 694.2,428.9 690.8,427.2 687.4,425.5 684.0,426.3 679.8,423.8 677.3,420.4 675.6,423.0 674.7,421.3 673.0,420.4 670.5,419.6 668.8,416.2" fill="#ad3896" fill-opacity="0.43"/>
<polyline points="522.0,78.1 522.9,80.5 523.8,82.7 524.4,85.3 525.0,87.7 525.6,90.1 526.2,91.9 526.6,90.1 526.9,88.2 527.3,85.1 527.6,83.5 528.0,81.5 528.2,84.4 528.4,86.3 528.5,88.9 528.7,90.3 528.9,93.1 529.9,95.0 530.9,96.6 531.9,98.8 532.6,100.9 533.4,102.9 534.1,104.3 534.9,106.9 535.3,108.6 535.7,110.7 536.1,113.5 536.5,115.0 536.9,113.3 537.4,110.5 537.8,109.3 538.2,106.9 538.7,108.8 539.1,111.7 539.5,113.4 540.0,116.2 541.1,117.3 542.3,119.6 542.8,122.3 543.2,123.9 543.7,126.2 544.2,128.8 545.0,126.5 545.8,123.1 546.2,125.8 546.5,127.4 546.9,130.6 547.2,132.3 547.6,134.6 548.5,136.7 549.5,138.1 550.4,140.4 551.1,143.0 551.8,144.8 552.4,147.2 553.1,149.2 553.8,150.8 554.4,152.6 555.0,154.6 555.6,156.4 556.2,158.8 556.9,160.5 557.6,162.4 558.2,164.8 558.9,167.2 559.6,169.2 560.5,170.8 561.4,173.8 562.2,175.6 563.1,178.0 563.6,180.0 564.0,182.9 564.5,184.7 564.9,186.7 565.4,189.2 566.2,191.5 566.9,194.1 567.7,196.2 567.9,198.0 568.1,201.4 568.4,202.5 568.6,205.7 568.8,207.7 570.3,209.9 571.8,211.2 572.2,212.8 572.6,215.8 573.0,217.5 573.4,219.9 573.8,221.3 574.2,223.5 574.6,226.2 575.0,228.0 575.4,231.1 575.8,232.4 576.2,235.2 576.5,237.6 576.9,239.8 577.3,241.3 577.7,243.4 578.1,245.8 579.6,247.5 581.1,249.2 581.6,251.6 582.0,252.9 582.5,255.7 582.9,257.9 583.4,259.6 586.2,261.9 586.6,264.4 586.9,265.5 587.3,268.7 587.6,269.7 588.0,272.3 589.1,273.9 590.3,275.8 591.0,278.2 591.7,280.9 592.4,282.5 593.1,285.0 593.8,287.6 594.5,289.2 595.1,291.0 595.8,293.1 596.5,295.4 598.1,296.5 599.6,298.0 601.2,300.0 601.7,301.6 602.2,304.2 602.7,306.5 603.1,307.5 603.6,309.3 604.1,312.4 604.6,313.8 606.9,312.7 607.3,314.9 607.7,316.8 608.0,318.7 608.4,321.3 608.8,323.7 609.2,325.4 610.0,327.6 610.9,330.0 611.1,332.0 611.3,333.6 611.5,336.2 613.2,339.0 615.0,340.8 615.6,342.5 616.1,345.4 616.7,348.1 617.3,350.0 618.0,351.9 618.8,354.9 619.5,357.4 620.3,359.2 621.2,361.7 622.2,364.2 623.1,366.2 624.2,368.0 625.4,370.7 626.5,373.1 627.7,375.0 628.8,378.1 630.0,380.0 631.2,382.1 632.3,384.5 633.5,386.9 635.2,389.8 636.9,391.5 638.5,394.1 640.0,395.8 641.7,397.5 643.4,400.9 644.7,401.8 645.9,401.4 647.2,403.0 648.0,405.6 649.3,406.9 651.0,408.1 652.7,408.1 654.4,409.4 655.7,410.7 656.9,408.5 658.2,409.0 658.9,411.9 659.5,413.6 660.7,410.7 662.0,409.8 663.7,410.7 665.4,411.9 667.1,413.2 668.4,414.9 670.1,415.3 671.8,416.2 673.4,415.3 675.1,416.2 676.4,416.6 678.1,415.7 679.8,416.6 681.5,416.2 683.2,417.4 684.9,416.2 686.6,415.3 688.3,414.9 690.0,415.7 691.7,415.3 693.3,414.1 695.0,415.3 696.7,415.7 698.4,415.3 699.7,416.2 701.0,419.6 702.2,417.0 703.9,414.9 706.0,414.1 707.7,412.8 709.4,411.1 711.1,412.8 712.8,410.7 714.5,410.2 715.9,411.8 717.2,413.5 719.8,413.5 722.5,415.6 724.7,412.9 726.9,410.8 728.0,413.5 729.0,416.2 731.2,412.9 733.3,414.0 735.5,415.6 736.3,413.7 737.1,411.3 737.9,413.2 738.7,415.1 739.5,417.0 740.3,419.4 741.6,417.4 743.0,415.6 745.2,417.2 746.2,418.7 747.3,421.0 749.5,424.2 751.6,423.2 752.2,425.2 752.7,428.1 753.3,429.6 754.9,431.8 757.0,432.9 758.1,435.6 759.2,437.2 761.3,438.3 762.4,442.0 764.6,442.0 766.7,443.1 768.9,445.8 771.0,445.3 773.2,447.4 775.3,449.0 777.5,448.5 779.7,449.0 781.8,450.1 784.0,450.6 786.1,449.6 788.3,451.7 790.4,450.6 792.6,449.8 795.0,449.5 797.8,449.0 800.5,451.3 802.4,448.5 803.8,450.3 805.2,451.8 807.9,449.9 810.7,451.3 813.5,451.8 816.2,450.9 819.0,452.2 821.8,450.9 824.5,452.7 826.4,452.7 827.3,454.8 828.2,456.9 831.0,454.5 833.8,457.3 836.6,456.9 838.4,460.1 841.2,461.5 843.9,463.3 845.8,465.6 848.1,468.4 850.4,471.2 853.2,473.0 855.9,474.9 859.6,475.3 863.3,475.8 867.0,476.2 870.7,475.8 874.4,475.8 877.6,476.2" fill="none" stroke="#b0449c" stroke-width="2.4" stroke-linejoin="round"/>
<polyline points="522.7,164.6 523.2,167.2 523.8,169.5 524.3,171.5 524.6,173.8 525.0,175.9 525.4,178.0 525.7,180.8 526.2,183.1 526.6,185.1 527.1,187.5 527.6,189.4 528.0,191.9 528.5,193.8 529.1,195.6 529.7,198.0 530.3,200.0 530.8,201.7 531.4,203.8 532.0,205.9 532.6,207.7 533.3,209.7 534.0,212.3 534.7,214.9 535.4,216.9 535.9,218.7 536.4,221.1 536.9,223.0 537.3,225.2 537.8,226.7 538.3,228.4 538.8,230.8 539.2,233.1 539.6,235.2 540.0,236.9 540.4,238.6 540.7,240.7 541.1,243.2 541.5,244.9 541.9,247.6 542.3,249.2 542.9,251.6 543.4,253.6 544.0,256.3 544.5,258.4 545.1,260.8 545.4,263.2 545.8,265.3 546.1,266.9 546.4,269.1 546.8,271.2 547.1,273.3 547.4,275.5 547.8,276.7 548.1,279.2 549.2,281.4 550.4,284.0 551.5,286.2 552.0,288.3 552.4,290.9 552.9,292.7 553.3,295.7 553.8,297.7 555.5,300.0 557.3,302.3 557.9,304.3 558.5,307.0 559.0,309.0 559.6,311.5 560.2,313.6 560.8,316.1 561.3,318.1 561.9,320.8 562.5,322.5 563.0,325.1 563.6,327.0 564.2,328.8 564.6,330.4 565.0,333.1 565.4,334.4 565.7,336.6 566.1,339.2 566.5,340.8 566.9,342.9 567.2,344.7 567.6,346.7 568.0,348.8 568.4,350.5 568.8,353.3 569.1,354.5 569.5,356.9 570.0,358.8 570.4,361.1 570.9,362.8 571.4,365.3 571.9,366.6 572.3,369.2 572.8,370.8 573.3,373.2 573.8,375.0 574.3,377.2 574.8,378.8 575.4,381.2 575.9,383.1 576.4,384.9 576.9,386.9 577.4,388.9 577.9,391.1 578.4,392.8 578.9,394.5 579.4,397.1 579.9,398.6 580.4,400.8 581.0,403.1 581.6,405.7 582.2,407.4 582.8,409.6 583.4,412.3 584.0,414.3 584.5,417.0 585.1,419.1 585.6,421.3 586.2,423.8 586.7,425.8 587.3,428.3 587.8,430.0 588.7,432.1 589.6,434.6 592.4,437.4 593.3,439.2 594.2,441.1 595.2,443.5 596.1,445.2 598.9,448.0 601.2,449.9 602.1,452.1 603.0,454.0 605.3,454.9 607.6,454.0 609.5,456.3 610.9,458.6 613.2,457.7 615.0,460.5 617.3,460.0 619.6,460.9 621.9,461.4 623.8,462.3 625.2,464.6 627.5,464.2 630.2,464.6 632.1,465.5 633.9,462.8 635.8,465.5 638.1,465.5 639.9,465.1 641.3,462.8 643.2,464.2 645.0,465.1 646.9,465.5 648.7,467.9 650.1,465.1 652.4,465.5 655.2,467.9 657.5,470.6 659.8,468.8 662.6,469.7 665.3,470.6 668.1,471.6 670.0,474.3 672.7,475.2 675.5,474.3 677.3,474.8 679.2,473.4 681.9,474.3 684.7,476.2 687.5,477.1 689.3,478.9 692.1,478.5 694.9,479.4 697.6,481.2 700.4,482.2 702.7,483.6 704.1,485.9 707.4,486.8 709.6,487.1 711.8,487.9 714.0,490.5 716.2,491.6 718.5,492.7 721.0,492.7 723.6,492.7 726.6,494.6 728.0,495.7 729.5,497.5 733.2,497.9 736.9,498.6 739.9,496.8 741.0,498.5 742.1,500.5 745.8,500.9 748.0,500.3 750.2,500.1 753.2,501.6 756.1,502.7 758.4,503.2 760.6,503.1 763.5,504.5 766.5,503.8 770.2,504.9 773.9,506.0 777.5,507.5 781.2,506.4 784.9,507.5 786.8,508.2 788.6,509.3 791.5,507.6 793.7,508.7 797.4,509.4 801.1,510.1 804.8,510.9 808.5,510.9 812.2,511.6 814.4,511.9 816.6,512.0 819.5,512.7 821.8,513.1 824.0,512.7 826.9,513.8 829.5,514.2 832.1,513.8 835.8,514.9 838.0,514.6 840.2,514.6 842.5,515.4 844.7,516.0 846.9,516.0 849.1,516.4 852.8,517.5 856.5,517.9 858.7,518.0 860.9,518.3 863.9,517.2 867.5,517.5 869.8,517.1 872.0,516.8 874.9,517.5 877.9,518.3" fill="none" stroke="#066636" stroke-width="2.3" stroke-linejoin="round"/>
<line x1="569.5" y1="356.9" x2="604" y2="490" stroke="#000" stroke-width="2" stroke-dasharray="2 1.75" fill="none"/>
<line x1="602.7" y1="437" x2="602.7" y2="489" stroke="#000" stroke-width="2" stroke-dasharray="2 1.75" fill="none"/>
<line x1="569" y1="479" x2="817.3" y2="512.4" stroke="#000" stroke-width="2" stroke-dasharray="2 1.75" fill="none"/>
<line x1="734.3" y1="354.2" x2="734.3" y2="389.0" stroke="#000" stroke-width="2"/>
<polygon points="734.3,404 725.0,387.0 743.5,387.0" fill="#000"/>
<line x1="817" y1="387.3" x2="817.0" y2="424.4" stroke="#000" stroke-width="2"/>
<polygon points="817,439.4 807.8,422.4 826.2,422.4" fill="#000"/>
<line x1="566" y1="446" x2="583.0" y2="464.9" stroke="#000" stroke-width="2"/>
<polygon points="593,476 574.8,469.6 588.5,457.2" fill="#000"/>
<line x1="668.6" y1="450.3" x2="671.4" y2="459.1" stroke="#000" stroke-width="2"/>
<polygon points="676,473.4 662.0,460.0 679.6,454.4" fill="#000"/>
<line x1="720.3" y1="515.8" x2="763.3" y2="514.0" stroke="#000" stroke-width="2"/>
<polygon points="778.3,513.4 761.7,523.3 760.9,504.9" fill="#000"/>
<rect x="980.5" y="23.7" width="372.29999999999995" height="512.1999999999999" fill="none" stroke="#000" stroke-width="2"/>
<line x1="984.91" y1="535.9" x2="984.91" y2="549.4" stroke="#000" stroke-width="1.9"/>
<line x1="999.44" y1="535.9" x2="999.44" y2="549.4" stroke="#000" stroke-width="1.9"/>
<line x1="1013.97" y1="535.9" x2="1013.97" y2="549.4" stroke="#000" stroke-width="1.9"/>
<line x1="1028.50" y1="535.9" x2="1028.50" y2="561.4" stroke="#000" stroke-width="1.9"/>
<line x1="1043.03" y1="535.9" x2="1043.03" y2="549.4" stroke="#000" stroke-width="1.9"/>
<line x1="1057.56" y1="535.9" x2="1057.56" y2="549.4" stroke="#000" stroke-width="1.9"/>
<line x1="1072.09" y1="535.9" x2="1072.09" y2="549.4" stroke="#000" stroke-width="1.9"/>
<line x1="1086.62" y1="535.9" x2="1086.62" y2="549.4" stroke="#000" stroke-width="1.9"/>
<line x1="1101.15" y1="535.9" x2="1101.15" y2="555.4" stroke="#000" stroke-width="1.9"/>
<line x1="1115.68" y1="535.9" x2="1115.68" y2="549.4" stroke="#000" stroke-width="1.9"/>
<line x1="1130.21" y1="535.9" x2="1130.21" y2="549.4" stroke="#000" stroke-width="1.9"/>
<line x1="1144.74" y1="535.9" x2="1144.74" y2="549.4" stroke="#000" stroke-width="1.9"/>
<line x1="1159.27" y1="535.9" x2="1159.27" y2="549.4" stroke="#000" stroke-width="1.9"/>
<line x1="1173.80" y1="535.9" x2="1173.80" y2="561.4" stroke="#000" stroke-width="1.9"/>
<line x1="1188.33" y1="535.9" x2="1188.33" y2="549.4" stroke="#000" stroke-width="1.9"/>
<line x1="1202.86" y1="535.9" x2="1202.86" y2="549.4" stroke="#000" stroke-width="1.9"/>
<line x1="1217.39" y1="535.9" x2="1217.39" y2="549.4" stroke="#000" stroke-width="1.9"/>
<line x1="1231.92" y1="535.9" x2="1231.92" y2="549.4" stroke="#000" stroke-width="1.9"/>
<line x1="1246.45" y1="535.9" x2="1246.45" y2="555.4" stroke="#000" stroke-width="1.9"/>
<line x1="1260.98" y1="535.9" x2="1260.98" y2="549.4" stroke="#000" stroke-width="1.9"/>
<line x1="1275.51" y1="535.9" x2="1275.51" y2="549.4" stroke="#000" stroke-width="1.9"/>
<line x1="1290.04" y1="535.9" x2="1290.04" y2="549.4" stroke="#000" stroke-width="1.9"/>
<line x1="1304.57" y1="535.9" x2="1304.57" y2="549.4" stroke="#000" stroke-width="1.9"/>
<line x1="1319.10" y1="535.9" x2="1319.10" y2="561.4" stroke="#000" stroke-width="1.9"/>
<line x1="1333.63" y1="535.9" x2="1333.63" y2="549.4" stroke="#000" stroke-width="1.9"/>
<line x1="1348.16" y1="535.9" x2="1348.16" y2="549.4" stroke="#000" stroke-width="1.9"/>
<text transform="translate(1028.50,596.80) scale(1,1.03)" font-size="29.3" text-anchor="middle" font-weight="normal" >2.0</text>
<path transform="translate(1153.44,596.80) scale(1.0000,1.0300)" d="M8.3,0 L11.1,0 L11.1,-20.6 L9.0,-20.6 C8.6,-18.6 7.0,-17.1 3.4,-16.9 L3.4,-14.5 L8.3,-14.5 Z" fill="#000"/>
<text transform="translate(1169.73,596.80) scale(1,1.03)" font-size="29.3" text-anchor="start" font-weight="normal" >.0</text>
<text transform="translate(1319.10,596.80) scale(1,1.03)" font-size="29.3" text-anchor="middle" font-weight="normal" >0.0</text>
<text transform="translate(957,412.5) rotate(-90) scale(1,1.03)" font-size="29.3">Intensity (arb. units)</text>
<text transform="translate(1040.20,643.00) scale(1,1.03)" font-size="29.3" text-anchor="start" font-weight="normal" >Binding energy (ev)</text>
<line x1="1059.2" y1="64" x2="1102.6" y2="64" stroke="#066636" stroke-width="2"/>
<line x1="1059.2" y1="111.1" x2="1102.6" y2="111.1" stroke="#b0449c" stroke-width="2"/>
<text transform="translate(1111.66,74.9) scale(1,1.03)" font-size="29.3">MoS<tspan font-size="19.5" dy="7.8">2</tspan><tspan dy="-7.8">/Au</tspan></text>
<text transform="translate(1113.03,123) scale(1,1.03)" font-size="29.3">5Å F<tspan font-size="19.5" dy="7.8">6</tspan><tspan dy="-7.8">TCNN</tspan></text>
<text transform="translate(1266.10,123.00) scale(1,1.03)" font-size="29.3" text-anchor="start" font-weight="normal" >O</text>
<line x1="1279.5" y1="117.4" x2="1287.7" y2="123.7" stroke="#000" stroke-width="2.8"/>
<text transform="translate(1155.66,267.5) scale(1,1.03)" font-size="29.3">F<tspan font-size="19.5" dy="7.8">6</tspan><tspan dy="-7.8">TCNN</tspan></text>
<text transform="translate(1264.20,267.50) scale(1,1.03)" font-size="29.3" text-anchor="start" font-weight="normal" >O</text>
<line x1="1277.6" y1="261.9" x2="1285.8" y2="268.2" stroke="#000" stroke-width="2.8"/>
<rect x="1287.2" y="248.9" width="10.7" height="1.7" fill="#000"/>
<path d="M1302.8,254.9 L1304.7,254.9 L1304.7,241.6 L1303.3,241.6 C1303.0,243.0 1301.9,244.0 1299.8,244.2 L1299.8,245.8 L1302.8,245.8 Z" fill="#000"/>
<text transform="translate(1181.10,354.90) scale(1,1.03)" font-size="29.3" text-anchor="start" font-weight="normal" >A + B</text>
<path transform="translate(997.86,473.20) scale(1.0000,1.0300)" d="M8.3,0 L11.1,0 L11.1,-20.6 L9.0,-20.6 C8.6,-18.6 7.0,-17.1 3.4,-16.9 L3.4,-14.5 L8.3,-14.5 Z" fill="#000"/>
<text transform="translate(1014.15,473.20) scale(1,1.03)" font-size="29.3" text-anchor="start" font-weight="normal" >.28</text>
<text transform="translate(1020.86,524.30) scale(1,1.03)" font-size="29.3" text-anchor="start" font-weight="normal" >No gap state</text>
<polygon points="1064.5,265.4 1066.8,274.6 1069.2,279.2 1071.5,288.5 1073.8,290.8 1076.1,297.7 1079.5,309.2 1083.0,318.5 1086.5,327.7 1088.8,333.8 1092.2,338.5 1094.5,347.7 1099.2,356.9 1102.6,363.8 1106.1,370.8 1109.5,375.4 1113.4,379.2 1116.8,387.7 1123.5,397.8 1130.3,402.9 1137.1,409.7 1150.6,414.8 1164.1,419.8 1177.7,424.9 1191.2,430.0 1204.8,435.1 1218.3,440.1 1231.8,445.2 1245.4,450.3 1258.9,453.7 1272.4,458.7 1286.0,463.8 1296.7,467.8 1302.0,469.5 1306.3,472.3 1286.0,470.6 1258.9,468.2 1231.8,465.5 1204.8,463.8 1190.0,461.6 1177.7,460.4 1164.1,458.7 1155.0,455.1 1143.1,448.3 1133.0,440.0 1122.8,429.7 1116.0,419.5 1109.2,405.9 1102.5,392.4 1095.7,378.8 1088.9,361.9 1085.5,348.3 1080.4,334.7 1075.3,317.8 1070.3,297.5 1065.2,277.1 1062.5,265.3" fill="#ad3896" fill-opacity="0.43"/>
<polyline points="984.9,52.7 987.2,56.2 988.4,58.8 989.5,61.9 991.8,64.2 993.5,65.5 995.3,67.7 996.5,70.2 997.6,72.3 998.8,74.0 999.9,76.9 1000.7,79.3 1001.4,81.3 1002.2,83.8 1003.4,85.5 1004.5,88.5 1005.1,90.8 1005.6,92.5 1006.2,95.3 1006.8,97.7 1010.3,98.8 1012.6,102.3 1013.2,104.0 1013.8,106.3 1014.3,109.1 1014.9,111.5 1015.6,114.3 1016.3,115.6 1017.0,118.1 1017.7,121.0 1018.4,123.1 1019.2,126.0 1020.1,127.8 1020.9,129.9 1021.8,132.3 1022.5,135.3 1023.2,136.3 1023.9,139.7 1024.6,141.2 1025.3,143.8 1026.2,145.6 1027.0,147.9 1027.9,150.5 1028.8,153.1 1030.5,155.8 1032.2,157.7 1032.6,159.6 1033.0,162.4 1033.3,164.8 1033.7,166.7 1034.1,169.3 1034.5,171.5 1036.8,172.7 1037.4,174.7 1038.0,177.3 1038.6,180.1 1039.2,183.1 1040.0,186.2 1040.8,188.8 1041.0,191.5 1041.3,194.2 1041.5,197.3 1043.8,196.2 1044.3,198.6 1044.7,200.7 1045.2,202.8 1045.6,205.8 1046.1,207.7 1046.7,210.3 1047.2,211.9 1047.8,214.7 1048.4,216.9 1048.9,219.7 1049.5,221.5 1051.2,223.6 1053.0,225.0 1053.4,226.9 1053.9,230.0 1054.3,231.0 1054.8,233.5 1055.2,236.2 1055.6,237.5 1056.1,240.1 1056.5,242.3 1057.2,244.0 1057.9,247.1 1058.5,249.6 1059.2,251.6 1059.9,253.8 1062.2,257.3 1063.0,260.5 1063.7,262.4 1064.5,265.4 1065.1,268.0 1065.7,270.1 1066.2,272.4 1066.8,274.6 1068.0,276.8 1069.2,279.2 1069.8,282.0 1070.3,284.5 1070.9,286.1 1071.5,288.5 1073.8,290.8 1074.6,293.3 1075.3,294.8 1076.1,297.7 1076.8,300.3 1077.5,302.5 1078.1,305.3 1078.8,307.4 1079.5,309.2 1080.4,311.2 1081.2,313.7 1082.1,316.4 1083.0,318.5 1083.9,320.1 1084.8,323.0 1085.6,324.9 1086.5,327.7 1087.7,330.2 1088.8,333.8 1090.5,335.5 1092.2,338.5 1092.8,341.2 1093.3,342.6 1093.9,345.0 1094.5,347.7 1095.7,349.8 1096.8,352.8 1098.0,354.0 1099.2,356.9 1100.3,359.1 1101.5,361.6 1102.6,363.8 1103.8,366.7 1104.9,368.9 1106.1,370.8 1107.8,373.6 1109.5,375.4 1111.5,377.0 1113.4,379.2 1114.2,381.2 1115.1,383.3 1116.0,386.1 1116.8,387.7 1118.1,390.4 1119.5,391.3 1120.8,393.3 1122.2,395.4 1123.5,397.8 1125.8,399.1 1128.0,401.2 1130.3,402.9 1132.0,404.7 1133.7,406.0 1135.4,407.3 1137.1,409.7 1139.3,410.4 1141.6,411.2 1143.8,412.3 1146.1,413.7 1148.3,414.2 1150.6,414.8 1152.8,415.7 1155.1,416.6 1157.3,417.5 1159.6,417.5 1161.8,419.5 1164.1,419.8 1166.4,421.0 1168.6,422.0 1170.9,422.8 1173.2,423.0 1175.4,423.9 1177.7,424.9 1180.0,425.2 1182.2,426.8 1184.5,426.8 1186.7,427.7 1189.0,428.7 1191.2,430.0 1193.5,430.4 1195.7,431.5 1198.0,431.9 1200.3,432.7 1202.5,433.8 1204.8,435.1 1207.0,435.4 1209.3,436.6 1211.5,436.9 1213.8,439.0 1216.0,439.4 1218.3,440.1 1220.5,440.5 1222.8,441.5 1225.0,442.4 1227.3,443.3 1229.5,443.8 1231.8,445.2 1234.1,446.5 1236.3,447.6 1238.6,447.7 1240.9,448.6 1243.1,448.9 1245.4,450.3 1247.7,450.3 1249.9,451.2 1252.2,451.7 1254.4,453.0 1256.7,452.7 1258.9,453.7 1261.2,453.9 1263.4,456.0 1265.7,456.2 1267.9,456.5 1270.2,457.9 1272.4,458.7 1274.7,458.9 1276.9,460.4 1279.2,461.9 1281.5,462.6 1283.7,463.2 1286.0,463.8 1288.1,464.3 1290.3,465.2 1292.4,465.7 1294.6,467.4 1296.7,467.8 1299.3,468.7 1302.0,469.5 1304.5,471.0 1306.9,471.8 1309.2,472.9 1311.5,474.0 1313.8,475.7 1315.5,477.6 1317.2,479.2 1318.9,480.5 1320.6,481.4 1322.5,483.7 1324.4,485.6 1326.3,487.1 1329.2,488.5 1332.0,489.3 1333.7,490.7 1335.4,492.8 1337.7,493.1 1339.9,493.3 1343.3,493.9 1345.6,494.2 1347.9,495.0" fill="none" stroke="#b0449c" stroke-width="2.3" stroke-linejoin="round"/>
<polyline points="984.9,180.8 986.0,182.4 987.2,184.6 989.0,187.4 990.7,189.2 994.2,191.5 995.0,193.5 995.7,196.4 996.5,198.5 998.8,197.3 999.6,199.6 1000.3,202.4 1001.1,205.4 1002.8,208.2 1004.5,210.0 1005.6,212.0 1006.8,214.6 1009.2,213.5 1009.8,215.9 1010.4,218.1 1010.9,220.4 1011.5,222.7 1013.2,224.4 1014.9,226.2 1015.8,228.2 1016.6,231.1 1017.5,232.7 1018.4,235.4 1019.5,237.1 1020.7,238.8 1021.8,241.2 1023.5,243.3 1025.3,245.8 1025.9,248.3 1026.4,251.4 1027.0,253.5 1027.6,256.2 1028.4,258.5 1029.1,261.3 1029.9,264.2 1030.7,267.3 1031.4,269.0 1032.2,272.1 1032.9,274.6 1033.7,276.8 1034.4,279.4 1035.2,281.5 1035.9,283.7 1036.6,286.3 1037.3,288.5 1038.0,290.8 1038.6,293.2 1039.2,295.8 1039.7,297.8 1040.3,300.0 1040.8,301.9 1041.2,304.2 1041.7,307.3 1042.2,309.2 1042.9,311.5 1043.6,313.5 1044.2,316.6 1044.9,318.5 1045.5,321.3 1046.1,324.1 1046.6,326.9 1047.2,329.2 1048.1,331.3 1049.0,333.7 1049.8,336.6 1050.7,338.5 1051.6,340.4 1052.5,343.4 1053.3,345.0 1054.2,347.7 1055.0,350.5 1055.9,353.1 1056.8,355.9 1057.6,358.1 1058.2,361.0 1058.8,363.3 1059.3,365.6 1059.9,368.5 1060.6,370.5 1061.3,373.1 1062.0,375.4 1062.7,377.3 1063.4,380.0 1064.2,383.0 1065.1,385.2 1066.0,388.0 1066.8,390.4 1067.7,392.4 1068.5,394.7 1069.4,396.8 1070.3,399.6 1071.2,401.5 1072.1,403.5 1073.1,405.8 1074.0,407.8 1074.9,410.0 1075.8,412.6 1076.7,415.0 1077.7,416.6 1078.6,419.1 1079.5,421.5 1080.4,423.2 1081.4,425.8 1082.3,428.2 1083.3,429.5 1084.2,431.9 1085.3,434.2 1086.5,435.8 1087.7,437.5 1088.8,440.0 1090.3,442.7 1091.9,444.7 1093.4,447.3 1094.9,448.8 1096.5,450.8 1098.0,452.7 1100.0,453.5 1101.3,455.9 1102.7,458.9 1105.3,461.5 1107.1,463.4 1108.9,465.5 1112.4,466.8 1113.8,468.5 1115.1,470.4 1116.8,472.3 1118.6,474.4 1122.2,476.2 1124.0,477.8 1125.7,479.3 1127.9,479.3 1130.1,479.7 1133.7,481.0 1137.2,481.0 1140.8,481.9 1143.0,482.4 1145.2,483.7 1147.4,484.6 1149.6,486.3 1153.2,485.5 1155.9,484.6 1158.1,485.1 1160.3,486.3 1162.9,486.6 1165.6,486.8 1168.2,487.1 1170.9,487.7 1173.2,488.0 1175.4,487.7 1178.0,489.5 1180.2,489.3 1182.4,489.0 1185.1,489.9 1187.8,490.3 1190.0,490.4 1192.2,489.5 1195.7,489.5 1198.4,489.5 1201.1,490.3 1203.8,490.1 1206.4,490.8 1208.6,490.9 1210.8,491.7 1213.0,491.1 1215.2,490.8 1217.6,491.5 1220.0,492.1 1222.8,492.8 1225.0,492.4 1227.3,491.6 1230.7,493.9 1233.6,494.1 1236.4,494.5 1239.2,494.7 1242.1,493.9 1244.4,494.2 1246.6,495.8 1248.9,496.2 1251.2,495.6 1253.5,495.6 1256.3,495.4 1259.2,494.5 1262.0,497.3 1265.2,496.5 1268.3,496.7 1270.6,497.4 1272.8,497.4 1275.1,497.3 1277.4,498.0 1279.6,497.8 1281.9,497.9 1284.8,497.3 1287.6,497.3 1289.9,498.1 1292.2,497.9 1294.5,498.7 1296.7,499.6 1299.6,499.7 1302.4,500.7 1304.7,502.5 1306.9,504.1 1308.4,506.0 1310.0,507.9 1311.5,509.8 1313.0,511.4 1314.5,513.2 1316.0,515.5 1318.3,517.9 1320.6,520.1 1322.8,521.5 1325.1,522.9 1327.4,523.5 1329.7,524.7 1332.0,525.7 1334.3,526.3 1336.5,526.7 1338.8,526.9 1341.1,527.1 1343.3,527.3 1345.6,527.6 1347.9,528.0" fill="none" stroke="#066636" stroke-width="2.2" stroke-linejoin="round"/>
<line x1="1069.4" y1="432" x2="1132.8" y2="483.7" stroke="#000" stroke-width="2" stroke-dasharray="2 1.75" fill="none"/>
<polyline points="1108.4,480.1 1132.8,483.7 1137.2,481.3 1140.8,482.2 1145.2,484.0 1149.6,486.6 1153.2,485.8 1155.9,484.9 1160.3,486.6 1165.6,487.1 1170.9,488.0 1175.4,488.0 1178.0,489.8 1182.4,489.3 1187.8,490.6 1192.2,489.8 1195.7,489.8 1201.1,490.6 1206.4,491.1" stroke="#000" stroke-width="2" stroke-dasharray="2 1.75" fill="none"/>
<line x1="1133.2" y1="454" x2="1133.2" y2="483.7" stroke="#000" stroke-width="2" stroke-dasharray="2 1.75" fill="none"/>
<line x1="1214.9" y1="367.4" x2="1204.5" y2="407.7" stroke="#000" stroke-width="2"/>
<polygon points="1200.7,422.2 1196.0,403.4 1213.9,408.1" fill="#000"/>
<line x1="1062.9" y1="462.1" x2="1088.2" y2="466.4" stroke="#000" stroke-width="2"/>
<polygon points="1103,468.9 1084.7,475.2 1087.8,456.9" fill="#000"/>
<line x1="1200" y1="519.5" x2="1249.5" y2="512.0" stroke="#000" stroke-width="2"/>
<polygon points="1264.3,509.8 1248.9,521.5 1246.1,503.2" fill="#000"/>
</svg>
</body></html>
